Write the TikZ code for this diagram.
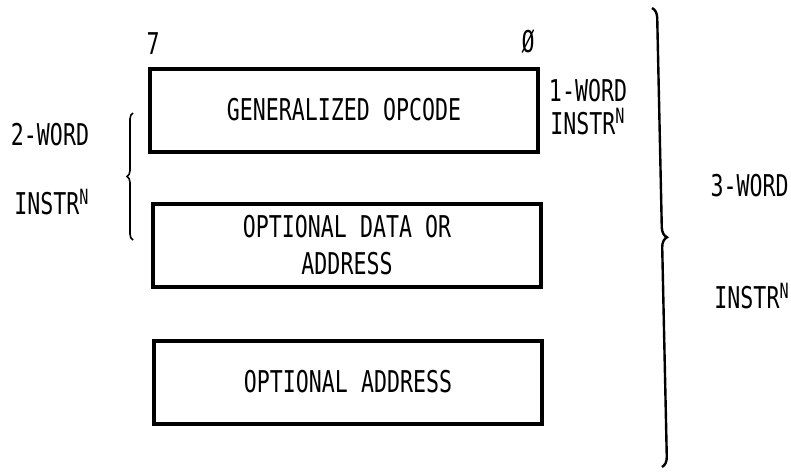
\documentclass[tikz,border=0pt]{standalone}
\usepackage{fontspec}
\newfontfamily\dotfont[FakeStretch=0.72]{DejaVu Sans Mono}
\usetikzlibrary{decorations.pathreplacing}
\tikzset{
  lbl/.style={font=\dotfont\fontsize{15}{18.5}\selectfont, align=center, inner sep=0pt},
  field/.style={draw, line width=2pt, minimum width=194pt, minimum height=41.5pt},
  curly/.style={decorate, decoration={brace, amplitude=#1}},
}
\begin{document}
\begin{tikzpicture}[x=0.5pt,y=-0.5pt, every node/.style={lbl}]
\useasboundingbox (0,0) rectangle (791,472);
% instruction words
\node[field] (opcode) at (344,110) {GENERALIZED OPCODE};
\node[field] (data) at (347,245) {OPTIONAL DATA OR\\ADDRESS};
\node[field] (addr) at (348,382) {OPTIONAL ADDRESS};
% bit numbers
\node (msb) at (153,44) {7};
\node (lsb) at (528,42) {Ø};
% labels
\node[font=\dotfont\fontsize{15}{16.5}\selectfont] (one) at (588,107) {1-WORD\\INSTR\textsuperscript{N}};
\node (two) at (50,135) {2-WORD};
\node (twoN) at (52,202) {INSTR\textsuperscript{N}};
\node[anchor=east] (three) at (789,186) {3-WORD};
\node[anchor=east] (threeN) at (790,296) {INSTR\textsuperscript{N}};
% braces
\coordinate (twotop) at (133,113);
\coordinate (twobot) at (133,240);
\coordinate (threetop) at (652,8);
\coordinate (threebot) at (662,467);
\draw[curly=3pt, line width=0.8pt] (twobot) -- (twotop);
\draw[curly=5pt, line width=1.2pt] (threetop) -- (threebot);
\end{tikzpicture}
\end{document}
